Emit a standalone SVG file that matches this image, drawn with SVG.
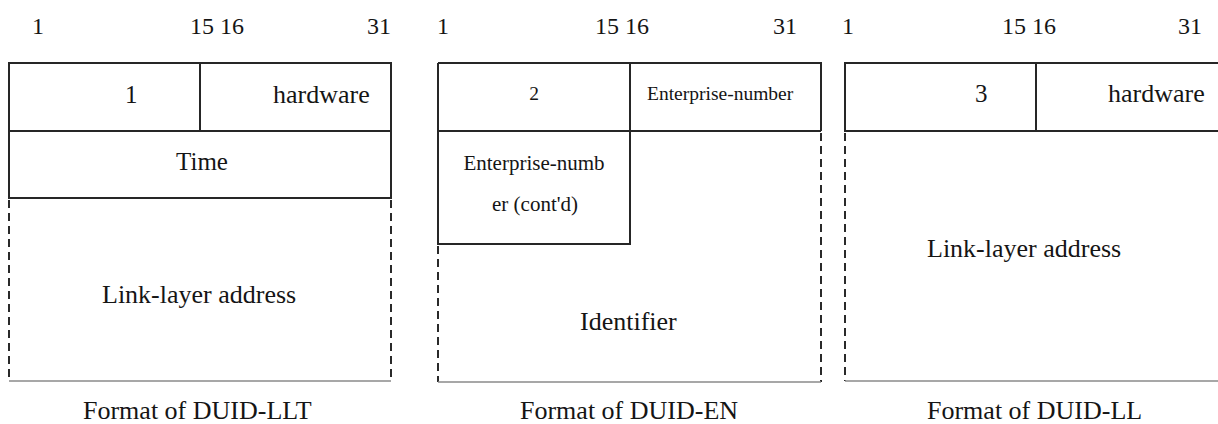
<svg xmlns="http://www.w3.org/2000/svg" width="1218" height="424" viewBox="0 0 1218 424" font-family="'Liberation Serif', 'Times New Roman', 'DejaVu Serif', serif">
  <style>
    text { font-family: "Liberation Serif", "Times New Roman", "DejaVu Serif", serif; fill: #151515; }
    .bit { font-size: 24px; }
    .lbl { font-size: 26px; }
    .sm { font-size: 19.5px; }
    .md { font-size: 21px; }
    .solid { stroke: #262626; stroke-width: 2; fill: none; }
    .dash { stroke: #2a2a2a; stroke-width: 2; stroke-dasharray: 8 5; fill: none; }
    .base { stroke: #8a8a8a; stroke-width: 1.5; fill: none; }
    .mid { text-anchor: middle; }
  </style>

  <!-- DUID-LLT -->
  <g id="duid-llt">
    <text class="bit" x="32" y="34">1</text>
    <text class="bit" x="190" y="34">15 16</text>
    <text class="bit" x="367" y="34">31</text>
    <path class="solid" d="M9 63 H391 V198 H9 Z M9 131 H391 M200 63 V131"/>
    <path class="dash" d="M9 200 V381 M391 200 V381"/>
    <path class="base" d="M9 381 H391"/>
    <text class="lbl" x="125" y="103" style="font-size:25px">1</text>
    <text class="lbl" x="273" y="103">hardware</text>
    <text class="lbl mid" x="202" y="170" style="font-size:25px">Time</text>
    <text class="lbl" x="102" y="303">Link-layer address</text>
    <text class="lbl" x="83" y="419">Format of DUID-LLT</text>
  </g>

  <!-- DUID-EN -->
  <g id="duid-en">
    <text class="bit" x="437" y="34">1</text>
    <text class="bit" x="595" y="34">15 16</text>
    <text class="bit" x="773" y="34">31</text>
    <path class="solid" d="M438 63 H821 V131 M438 63 V244 H630 V63 M438 131 H821"/>
    <path class="dash" d="M438 246 V382 M821 133 V382"/>
    <path class="base" d="M438 382 H821"/>
    <text class="sm mid" x="534" y="100">2</text>
    <text class="sm" x="647" y="100">Enterprise-number</text>
    <text class="md mid" x="534" y="170">Enterprise-numb</text>
    <text class="md mid" x="535" y="211">er (cont'd)</text>
    <text class="lbl" x="580" y="330">Identifier</text>
    <text class="lbl" x="520" y="419">Format of DUID-EN</text>
  </g>

  <!-- DUID-LL -->
  <g id="duid-ll">
    <text class="bit" x="842" y="34">1</text>
    <text class="bit" x="1002" y="34">15 16</text>
    <text class="bit" x="1178" y="34">31</text>
    <path class="solid" d="M1218 63 H845 V131 H1218 M1036 63 V131"/>
    <path class="dash" d="M845 133 V381"/>
    <path class="base" d="M845 381 H1218"/>
    <text class="lbl" x="975" y="102" style="font-size:25px">3</text>
    <text class="lbl" x="1108" y="102">hardware</text>
    <text class="lbl" x="927" y="257">Link-layer address</text>
    <text class="lbl" x="927" y="419">Format of DUID-LL</text>
  </g>
</svg>
